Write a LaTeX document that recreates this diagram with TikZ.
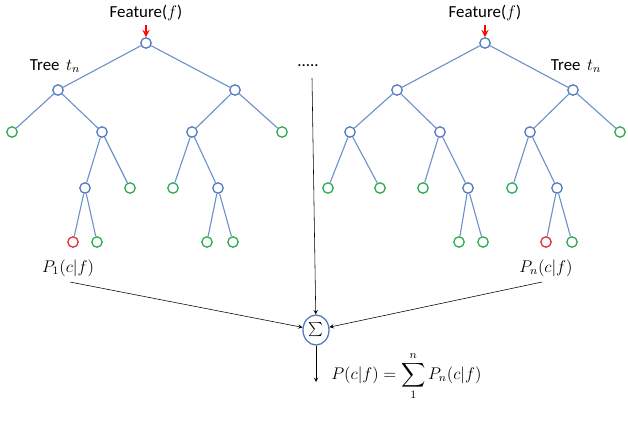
\documentclass[tikz,border=0pt]{standalone}
\usepackage{fontspec}
\usepackage{amsmath}
\setsansfont{Carlito}
\usetikzlibrary{arrows}
\usetikzlibrary{shapes.geometric}
\definecolor{edgeblue}{RGB}{110,145,200}
\definecolor{nodeblue}{RGB}{80,120,190}
\definecolor{leafgreen}{RGB}{40,170,80}
\definecolor{leafred}{RGB}{230,40,50}

\begin{document}
\begin{tikzpicture}[x=0.025cm,y=-0.025cm,
  inner/.style={draw=nodeblue,circle,fill=white,line width=0.9pt,minimum size=0.26cm,inner sep=0pt},
  leaf/.style={draw=leafgreen,circle,fill=white,line width=0.9pt,minimum size=0.26cm,inner sep=0pt},
  bad/.style={draw=leafred,circle,fill=white,line width=0.9pt,minimum size=0.26cm,inner sep=0pt},
  branch/.style={draw=edgeblue,line width=0.8pt},
  label/.style={font=\sffamily\fontsize{12}{14}\selectfont,inner sep=0pt}]
\useasboundingbox (0,0) rectangle (628,423);

% left tree
\node (a) [inner] at (146,43) {};
\node (b) [inner] at (58,90) {};
\node (c) [inner] at (235,90) {};
\node (d) [leaf] at (12,132) {};
\node (e) [inner] at (102,132) {};
\node (f) [inner] at (192,132) {};
\node (g) [leaf] at (282,132) {};
\node (h) [inner] at (85,188) {};
\node (i) [leaf] at (130,188) {};
\node (j) [leaf] at (173,188) {};
\node (k) [inner] at (218,188) {};
\node (l) [bad] at (73,242) {};
\node (m) [leaf] at (97,242) {};
\node (n) [leaf] at (207,242) {};
\node (o) [leaf] at (233,242) {};

\draw[branch] (a) -- (b);
\draw[branch] (a) -- (c);
\draw[branch] (b) -- (d);
\draw[branch] (b) -- (e);
\draw[branch] (e) -- (h);
\draw[branch] (e) -- (i);
\draw[branch] (c) -- (f);
\draw[branch] (c) -- (g);
\draw[branch] (f) -- (j);
\draw[branch] (f) -- (k);
\draw[branch] (h) -- (l);
\draw[branch] (h) -- (m);
\draw[branch] (k) -- (n);
\draw[branch] (k) -- (o);

% right tree
\node (A) [inner] at (485,43) {};
\node (B) [inner] at (397,90) {};
\node (C) [inner] at (573,90) {};
\node (D) [inner] at (350,132) {};
\node (E) [inner] at (440,132) {};
\node (F) [inner] at (530,132) {};
\node (G) [leaf] at (620,132) {};
\node (H) [leaf] at (328,188) {};
\node (I) [leaf] at (380,188) {};
\node (J) [leaf] at (423,188) {};
\node (K) [inner] at (468,188) {};
\node (L) [leaf] at (512,188) {};
\node (M) [inner] at (557,188) {};
\node (N) [leaf] at (459,242) {};
\node (O) [leaf] at (483,242) {};
\node (P) [bad] at (546,242) {};
\node (Q) [leaf] at (572,242) {};

\draw[branch] (A) -- (B);
\draw[branch] (A) -- (C);
\draw[branch] (B) -- (D);
\draw[branch] (B) -- (E);
\draw[branch] (D) -- (H);
\draw[branch] (D) -- (I);
\draw[branch] (E) -- (J);
\draw[branch] (E) -- (K);
\draw[branch] (K) -- (N);
\draw[branch] (K) -- (O);
\draw[branch] (C) -- (F);
\draw[branch] (C) -- (G);
\draw[branch] (F) -- (L);
\draw[branch] (F) -- (M);
\draw[branch] (M) -- (P);
\draw[branch] (M) -- (Q);

% labels
\node (feat1) [label] at (146,13) {Feature($f$)};
\node (feat2) [label] at (485,13) {Feature($f$)};
\node (tree1) [label] at (55,66) {Tree\, $t_n$};
\node (tree2) [label] at (576,66) {Tree\, $t_n$};
\node (dots) [label] at (308,66) {.....};
\coordinate (red1) at (146,25);
\coordinate (red2) at (485,25);
\coordinate (top) at (312,78);
\draw[->, >=stealth, red, line width=1.3pt] (red1) -- (a);
\draw[->, >=stealth, red, line width=1.3pt] (red2) -- (A);

% combination
\node (sum) [draw=nodeblue,ellipse,line width=0.9pt,minimum width=0.65cm,minimum height=0.75cm,inner sep=0pt] at (316,330) {$\sum$};
\node (p1) [label] at (68,268) {$P_1(c|f)$};
\node (pn) [label] at (546,268) {$P_n(c|f)$};
\node (res) [label,anchor=west] at (331,376) {$P(c|f)=\displaystyle\sum_{1}^{n}P_n(c|f)$};
\coordinate (in1) at (70,282);
\coordinate (inn) at (542,282);
\coordinate (out) at (316,382);

\draw[->, >=stealth, thin] (in1) -- (sum);
\draw[->, >=stealth, thin] (inn) -- (sum);
\draw[->, >=stealth, thin] (top) -- (sum);
\draw[->, >=stealth, thin] (sum) -- (out);
\end{tikzpicture}
\end{document}
